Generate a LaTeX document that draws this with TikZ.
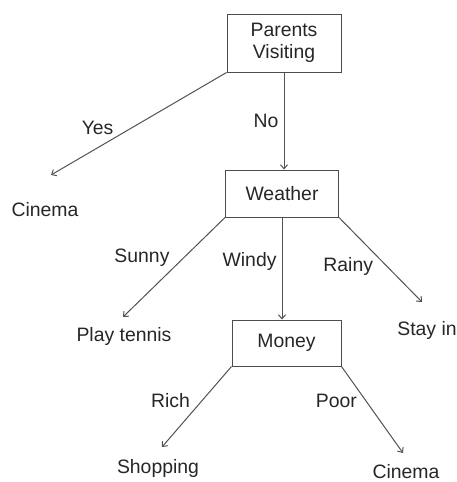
\documentclass[tikz,border=0pt]{standalone}
\usepackage{fontspec}
\setmainfont{Liberation Sans}
\usetikzlibrary{arrows.meta,positioning}

\begin{document}
\begin{tikzpicture}[
  x=1pt,y=-1pt,
  font=\fontsize{19.4}{22}\selectfont,
  question/.style={draw=black!70,line width=1pt,text=black!85,align=center,inner sep=2pt},
  outcome/.style={inner sep=0pt,text=black!85},
  choice/.style={inner sep=2pt,text=black!85},
  branch/.style={draw=black!68,line width=1pt,-{Straight Barb[length=4pt,width=7pt]}}
]
  \useasboundingbox (0,0) rectangle (457,482);

  \node[question,minimum width=114pt,minimum height=58pt] (parents) at (284,43) {Parents\\Visiting};
  \node[question,minimum width=113pt,minimum height=47pt,below=97pt of parents,xshift=-2pt] (weather) {Weather};
  \node[question,minimum width=109pt,minimum height=46pt,below=102pt of weather,xshift=4.5pt] (money) {Money};

  \node[outcome] (cinema top) at (45,210) {Cinema};
  \node[outcome] (tennis) at (124,336) {Play tennis};
  \node[outcome] (stay) at (427,330) {Stay in};
  \node[outcome] (shopping) at (158,468) {Shopping};
  \node[outcome] (cinema bottom) at (406,472) {Cinema};

  \coordinate (yes end) at (51,175);
  \coordinate (sunny end) at (123,317);
  \coordinate (rainy end) at (422,302);
  \coordinate (rich end) at (162,447);
  \coordinate (poor end) at (403,453);

  \draw[branch] (parents.south west) -- node[choice,pos=.63,above left]{Yes} (yes end);
  \draw[branch] (parents.south) -- node[choice,pos=.5,left=3pt]{No} (parents.south |- weather.north);
  \draw[branch] (weather.south west) -- node[choice,pos=.52,above left]{Sunny} (sunny end);
  \draw[branch] (weather.south) -- node[choice,pos=.43,left=3pt]{Windy} (weather.south |- money.north);
  \draw[branch] (weather.south east) -- node[choice,pos=.44,below left]{Rainy} (rainy end);
  \draw[branch] (money.south west) -- node[choice,pos=.42,left=10pt]{Rich} (rich end);
  \draw[branch] (money.south east) -- node[choice,pos=.29,below left]{Poor} (poor end);
\end{tikzpicture}
\end{document}
